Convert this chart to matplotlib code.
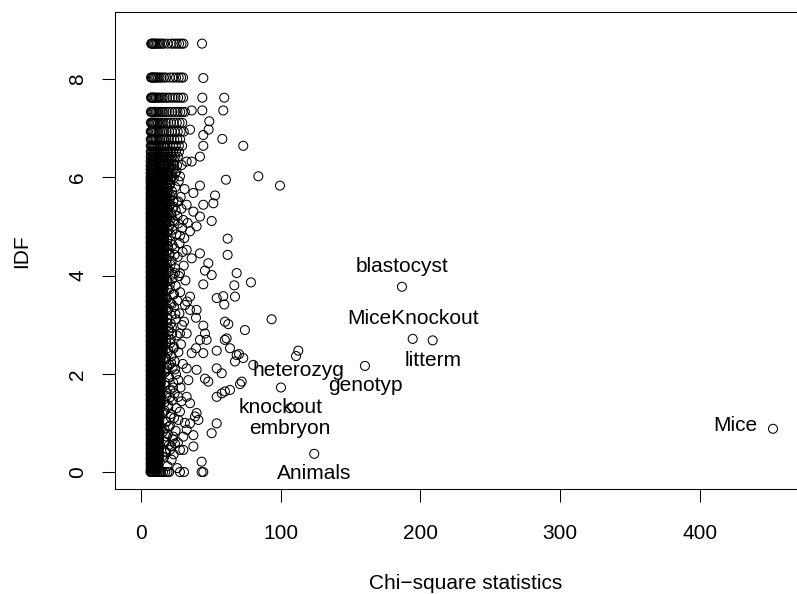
import matplotlib
matplotlib.use("Agg")
import matplotlib.pyplot as plt

plt.rcParams['font.family'] = ['Liberation Sans', 'DejaVu Sans']

# labelled terms
term_names = ["blastocyst", "MiceKnockout", "litterm", "heterozyg", "genotyp",
              "knockout", "embryon", "Animals", "Mice"]
term_chi = [186.8, 194.5, 208.8, 112.6, 160.3, 100.2, 106.7, 124.0, 452.4]
term_idf = [3.77, 2.71, 2.68, 2.47, 2.16, 1.72, 1.30, 0.37, 0.88]
term_side = ["above", "above", "below", "below", "below", "below", "below", "below", "left"]

# scattered terms right of the dense column
sparse_chi = [43.7, 44.6, 43.9, 59.6, 36.3, 43.9, 58.9, 48.9, 35.1, 48.4, 44.6, 58.2,
              44.6, 73.2, 42.2, 36.3, 32.7, 27.9, 60.8, 84.0, 99.5, 42.2, 37.5, 53.0,
              51.8, 26.7, 32.7, 44.6, 37.5, 42.2, 50.6, 30.3, 26.7, 39.8, 35.1, 27.9,
              62.0, 32.7, 42.2, 62.0, 36.3, 48.2, 45.8, 68.5, 50.6, 27.9, 24.3, 78.7,
              44.6, 66.8, 58.9, 54.2, 67.3, 59.6, 35.1, 31.5, 35.1, 39.8, 39.4, 30.8,
              60.1, 62.5, 93.5, 44.6, 74.4, 27.9, 32.7, 45.8, 61.3, 42.2, 47.0, 39.4,
              36.3, 44.6, 54.2, 63.7, 68.5, 73.2, 67.3, 24.3, 32.7, 39.8, 54.2, 45.8,
              48.2, 26.7, 33.9, 72.1, 54.2, 60.1, 63.7, 26.7, 32.7, 35.1, 39.8, 27.9,
              26.7, 35.1, 38.7, 41.1, 54.2, 32.7, 23.1, 30.3, 37.5, 24.3, 50.6, 37.5,
              30.3, 20.8, 27.9, 43.4, 27.9, 30.8, 43.4, 44.6,
              60.0, 70.2, 80.4, 111.0, 57.8, 70.9, 57.8]
sparse_idf = [8.72, 8.02, 7.62, 7.62, 7.36, 7.36, 7.36, 7.14, 6.97, 6.97, 6.86, 6.78,
              6.64, 6.64, 6.42, 6.32, 6.32, 6.02, 5.95, 6.02, 5.83, 5.83, 5.68, 5.63,
              5.47, 5.51, 5.44, 5.44, 5.30, 5.20, 5.11, 5.13, 5.06, 5.00, 4.90, 4.81,
              4.75, 4.52, 4.45, 4.42, 4.35, 4.25, 4.10, 4.05, 4.01, 4.05, 4.05, 3.86,
              3.82, 3.80, 3.58, 3.54, 3.57, 3.41, 3.57, 3.40, 3.30, 3.30, 3.14, 3.06,
              3.06, 3.01, 3.11, 2.98, 2.89, 2.82, 2.82, 2.82, 2.72, 2.69, 2.69, 2.52,
              2.42, 2.42, 2.47, 2.52, 2.38, 2.32, 2.25, 2.09, 2.11, 2.08, 2.11, 1.90,
              1.84, 1.87, 1.87, 1.84, 1.53, 1.64, 1.67, 1.53, 1.53, 1.40, 1.20, 1.23,
              1.06, 0.99, 1.13, 1.06, 0.99, 0.86, 0.72, 0.72, 0.75, 0.58, 0.79, 0.52,
              0.45, 0.45, 0.45, 0.21, 0.0, 0.0, 0.0, 0.0,
              2.69, 2.40, 2.18, 2.36, 2.01, 1.79, 1.60]

# overlapping terms just right of the dense column
fringe_chi = [18.5, 21.2, 25.3, 29.1, 19.6, 23.4, 27.0, 20.8, 24.6, 31.2, 18.9, 22.7,
              28.4, 20.1, 25.8, 23.3, 19.4, 28.9, 21.6, 26.1, 19.0, 23.8, 33.4, 20.5,
              29.6, 22.4, 18.6, 25.2, 31.0, 21.1, 27.6, 19.3, 23.9, 29.8, 20.4, 26.3,
              22.0, 18.4, 30.6, 24.4, 20.2, 27.2, 22.5, 18.9, 31.8, 24.8, 20.6, 28.0,
              22.9, 18.2, 26.0, 20.9, 33.0, 23.6, 19.1, 27.5, 21.7, 24.9, 18.6, 29.4,
              22.1, 19.8, 25.6, 21.3, 17.9, 28.6, 23.5, 19.5, 26.8, 21.8, 17.6, 24.2,
              20.3, 29.9, 22.6, 17.8, 25.1, 19.9, 23.0, 17.4, 28.3, 21.0, 24.0, 18.3,
              22.2, 29.0, 19.4, 25.4, 16.9, 21.4, 23.7, 18.1, 31.4, 20.7, 16.8, 24.8,
              19.2, 22.8, 17.2, 26.4, 20.0, 18.0, 23.4, 16.5, 21.9, 19.0, 25.9]
fringe_idf = [6.28, 6.20, 6.12, 6.25, 6.05, 5.98, 5.92, 5.86, 5.80, 5.76, 5.70, 5.64,
              5.60, 5.55, 5.49, 5.40, 5.34, 5.36, 5.27, 5.21, 5.16, 5.10, 5.07, 5.03,
              4.97, 4.93, 4.87, 4.84, 4.76, 4.71, 4.66, 4.60, 4.55, 4.48, 4.43, 4.38,
              4.30, 4.24, 4.20, 4.15, 4.09, 3.99, 3.93, 3.88, 3.90, 3.79, 3.72, 3.66,
              3.61, 3.55, 3.49, 3.44, 3.47, 3.36, 3.29, 3.23, 3.19, 3.11, 3.04, 2.99,
              2.94, 2.86, 2.78, 2.70, 2.64, 2.60, 2.55, 2.48, 2.44, 2.36, 2.30, 2.25,
              2.18, 2.20, 2.12, 2.05, 1.99, 1.93, 1.82, 1.76, 1.72, 1.68, 1.60, 1.55,
              1.46, 1.44, 1.36, 1.30, 1.25, 1.18, 1.10, 1.02, 1.00, 0.94, 0.88, 0.84,
              0.77, 0.66, 0.62, 0.60, 0.55, 0.40, 0.36, 0.30, 0.25, 0.12, 0.08]

# dense column at low chi-square: one IDF level per row
core_idf = [8.72, 8.03, 7.62, 7.33, 7.11, 6.93, 6.77, 6.64, 6.52, 6.42, 6.33, 6.24,
            6.16, 6.08, 6.01, 5.95,
            5.89, 5.83, 5.78, 5.72, 5.67, 5.62, 5.57, 5.52, 5.47, 5.42, 5.37, 5.32,
            5.27, 5.22, 5.17, 5.12, 5.07, 5.02,
            4.97, 4.92, 4.87, 4.82, 4.77, 4.72, 4.67, 4.62, 4.57, 4.52, 4.47, 4.42,
            4.37, 4.32, 4.27, 4.22, 4.17, 4.12, 4.07, 4.02, 3.97, 3.92, 3.87, 3.82,
            3.77, 3.72, 3.67, 3.62, 3.57, 3.52, 3.47, 3.42, 3.37, 3.32, 3.27, 3.22,
            3.17, 3.12, 3.07, 3.02, 2.97, 2.92, 2.87, 2.82, 2.77, 2.72, 2.67, 2.62,
            2.57, 2.52, 2.47, 2.42,
            2.37, 2.32, 2.27, 2.22, 2.17, 2.12, 2.07, 2.02, 1.97, 1.92, 1.87, 1.82,
            1.77, 1.72, 1.67, 1.62, 1.57, 1.52, 1.47, 1.42, 1.37, 1.32,
            1.27, 1.22, 1.17, 1.12, 1.07, 1.02, 0.97, 0.92, 0.87, 0.82, 0.77, 0.72,
            0.67, 0.62, 0.57, 0.52, 0.47, 0.42, 0.37, 0.32, 0.27, 0.22, 0.17, 0.12,
            0.06, 0.0]
core_chi = [
    [7.3, 7.9, 8.6, 9.4, 10.3, 11.3, 12.4, 13.6, 15.0, 16.5, 19.1, 21.8, 23.6, 25.5, 27.3, 29.0, 30.4],
    [7.2, 7.8, 8.5, 9.2, 10.1, 11.0, 12.1, 13.3, 14.6, 16.2, 17.9, 20.7, 23.0, 25.1, 27.0, 28.7, 30.1],
    [7.2, 7.7, 8.3, 9.0, 9.8, 10.7, 11.7, 12.8, 14.0, 15.4, 16.9, 18.6, 20.5, 22.6, 24.7, 26.6, 28.5, 30.2],
    [7.1, 7.6, 8.2, 8.9, 9.7, 10.6, 11.6, 12.7, 13.9, 15.3, 16.8, 18.4, 20.3, 22.3, 24.3, 26.2, 28.1, 29.8, 31.4],
    [7.1, 7.6, 8.2, 8.8, 9.5, 10.3, 11.2, 12.2, 13.4, 14.7, 16.1, 17.7, 19.5, 21.4, 23.5, 25.6, 27.6, 29.5],
    [7.0, 7.5, 8.1, 8.8, 9.6, 10.5, 11.5, 12.6, 13.8, 15.2, 16.7, 18.3, 20.1, 22.0, 24.1, 26.3, 28.4, 30.6],
    [7.0, 7.6, 8.2, 8.9, 9.7, 10.6, 11.6, 12.7, 13.9, 15.2, 16.6, 18.2, 19.9, 21.8, 23.8, 25.9, 28.0],
    [7.0, 7.5, 8.1, 8.7, 9.4, 10.2, 11.1, 12.1, 13.2, 14.4, 15.8, 17.3, 19.0, 20.8, 22.8, 24.9, 27.1, 29.4],
    [7.0, 7.6, 8.3, 9.1, 10.0, 11.0, 12.1, 13.3, 14.6, 16.0, 17.6, 19.3, 21.1, 23.0, 25.1, 27.2],
    [7.0, 7.5, 8.2, 8.9, 9.7, 10.6, 11.6, 12.7, 13.9, 15.3, 16.8, 18.4, 20.2, 22.2, 24.3, 26.4],
    [6.9, 7.5, 8.1, 8.8, 9.6, 10.5, 11.5, 12.6, 13.8, 15.1, 16.6, 18.2, 20.0, 22.1, 24.0],
    [6.9, 7.4, 8.0, 8.7, 9.5, 10.4, 11.4, 12.5, 13.7, 15.0, 16.4, 18.0, 19.8, 21.7, 23.7, 25.8],
    [6.9, 7.5, 8.2, 9.0, 9.9, 10.9, 12.0, 13.2, 14.5, 15.9, 17.5, 19.2, 21.0, 22.9],
    [6.9, 7.4, 8.0, 8.7, 9.5, 10.4, 11.4, 12.5, 13.7, 15.0, 16.4, 18.0, 19.7, 21.5, 24.4],
    [6.9, 7.5, 8.1, 8.8, 9.6, 10.5, 11.5, 12.6, 13.8, 15.1, 16.5, 18.1, 19.8, 22.0],
    [6.9, 7.4, 8.0, 8.7, 9.5, 10.4, 11.4, 12.5, 13.7, 15.0, 16.4, 17.9, 19.5, 21.3],
    [6.9, 7.6, 8.4, 9.3, 10.3, 11.4, 12.7, 14.1, 15.7, 17.4, 19.2],
    [7.0, 7.7, 8.5, 9.4, 10.4, 11.6, 12.9, 14.4, 16.0, 17.8, 20.3],
    [6.9, 7.5, 8.2, 9.0, 10.0, 11.1, 12.3, 13.7, 15.3, 17.0, 18.8],
    [7.0, 7.8, 8.7, 9.7, 10.8, 12.0, 13.4, 14.9, 16.6, 18.5, 22.1],
    [6.9, 7.5, 8.3, 9.2, 10.2, 11.3, 12.6, 14.0, 15.6, 17.3, 19.0],
    [7.0, 7.7, 8.5, 9.4, 10.4, 11.5, 12.8, 14.2, 15.8, 17.6, 21.0],
    [6.9, 7.6, 8.4, 9.3, 10.3, 11.4, 12.7, 14.1, 15.7, 17.4, 18.9],
    [7.0, 7.8, 8.6, 9.5, 10.5, 11.7, 13.0, 14.5, 16.1, 17.9, 23.2],
    [6.9, 7.5, 8.2, 9.1, 10.1, 11.2, 12.5, 13.9, 15.5, 17.2, 19.1],
    [7.0, 7.7, 8.5, 9.4, 10.4, 11.6, 12.9, 14.3, 15.9, 17.7, 20.5],
    [6.9, 7.6, 8.4, 9.3, 10.2, 11.3, 12.6, 14.0, 15.5, 17.2, 18.8],
    [7.0, 7.8, 8.6, 9.5, 10.5, 11.7, 13.0, 14.4, 16.0, 17.8, 24.9],
    [6.9, 7.5, 8.3, 9.2, 10.2, 11.3, 12.6, 14.0, 15.6, 17.3, 19.2],
    [7.0, 7.7, 8.5, 9.4, 10.4, 11.5, 12.8, 14.2, 15.8, 17.5, 21.8],
    [6.9, 7.6, 8.3, 9.1, 10.0, 11.1, 12.3, 13.7, 15.2, 16.9, 18.7],
    [7.0, 7.8, 8.6, 9.5, 10.5, 11.7, 13.0, 14.4, 16.0, 17.7, 23.0],
    [6.9, 7.5, 8.2, 9.0, 9.9, 11.0, 12.2, 13.5, 15.0, 16.6, 18.3],
    [7.0, 7.7, 8.5, 9.3, 10.3, 11.4, 12.6, 14.0, 15.5, 17.1, 20.2],
    [6.9, 7.6, 8.3, 9.1, 10.0, 11.0, 12.1, 13.4, 14.8, 16.3],
    [7.0, 7.7, 8.5, 9.3, 10.2, 11.2, 12.4, 13.7, 15.1, 16.7, 19.6],
    [6.9, 7.5, 8.2, 9.0, 9.9, 10.9, 12.0, 13.3, 14.7, 16.2],
    [7.0, 7.8, 8.6, 9.4, 10.3, 11.3, 12.5, 13.8, 15.2, 16.8, 21.4],
    [6.9, 7.6, 8.3, 9.1, 10.0, 11.0, 12.1, 13.4, 14.8, 16.4],
    [7.0, 7.7, 8.4, 9.2, 10.1, 11.1, 12.3, 13.6, 15.0, 16.6, 18.9],
    [6.9, 7.5, 8.2, 9.0, 9.9, 10.9, 12.0, 13.2, 14.6, 16.1],
    [7.0, 7.8, 8.6, 9.4, 10.3, 11.3, 12.4, 13.7, 15.1, 16.7, 22.6],
    [6.9, 7.6, 8.3, 9.1, 10.0, 11.0, 12.1, 13.3, 14.7, 16.3],
    [7.0, 7.7, 8.5, 9.3, 10.2, 11.2, 12.4, 13.7, 15.1, 16.6, 19.9],
    [6.9, 7.5, 8.2, 9.0, 9.8, 10.8, 11.9, 13.1, 14.5, 16.0],
    [7.0, 7.8, 8.6, 9.4, 10.3, 11.3, 12.5, 13.8, 15.2, 16.8, 24.1],
    [6.9, 7.6, 8.3, 9.1, 10.0, 11.0, 12.1, 13.4, 14.8, 16.3],
    [7.0, 7.7, 8.4, 9.2, 10.1, 11.1, 12.3, 13.6, 15.0, 16.5, 18.4],
    [6.9, 7.5, 8.2, 9.0, 9.9, 10.9, 12.0, 13.2, 14.6, 16.2],
    [7.0, 7.8, 8.6, 9.4, 10.3, 11.3, 12.4, 13.7, 15.1, 16.6, 21.2],
    [6.9, 7.6, 8.3, 9.1, 10.0, 11.0, 12.1, 13.3, 14.7, 16.2],
    [7.0, 7.7, 8.5, 9.3, 10.2, 11.2, 12.3, 13.6, 15.0, 16.5, 19.4],
    [6.9, 7.5, 8.2, 9.0, 9.9, 10.9, 12.0, 13.2, 14.6, 16.1],
    [7.0, 7.8, 8.5, 9.3, 10.2, 11.2, 12.3, 13.6, 15.0, 16.5, 22.8],
    [6.9, 7.6, 8.3, 9.1, 10.0, 11.0, 12.1, 13.3, 14.7, 16.2],
    [7.0, 7.7, 8.4, 9.2, 10.1, 11.1, 12.2, 13.5, 14.9, 16.4, 18.6],
    [6.9, 7.5, 8.2, 9.0, 9.9, 10.9, 12.0, 13.2, 14.6, 16.0],
    [7.0, 7.8, 8.6, 9.4, 10.3, 11.3, 12.4, 13.7, 15.1, 16.6, 20.7],
    [6.9, 7.6, 8.3, 9.1, 10.0, 11.0, 12.1, 13.3, 14.6, 15.9],
    [7.0, 7.7, 8.5, 9.3, 10.2, 11.2, 12.3, 13.5, 14.8, 16.2, 19.0],
    [6.9, 7.5, 8.2, 9.0, 9.9, 10.8, 11.9, 13.1, 14.4, 15.7],
    [7.0, 7.8, 8.6, 9.4, 10.3, 11.3, 12.4, 13.6, 14.9, 16.3, 23.7],
    [6.9, 7.6, 8.3, 9.1, 9.9, 10.9, 12.0, 13.2, 14.5, 15.8],
    [7.0, 7.7, 8.4, 9.2, 10.1, 11.1, 12.2, 13.4, 14.7, 16.1, 18.2],
    [6.9, 7.5, 8.2, 9.0, 9.8, 10.8, 11.9, 13.0, 14.3, 15.6],
    [7.0, 7.8, 8.5, 9.3, 10.2, 11.2, 12.3, 13.5, 14.8, 16.2, 21.9],
    [6.9, 7.6, 8.3, 9.1, 10.0, 10.9, 12.0, 13.2, 14.5, 15.8],
    [7.0, 7.7, 8.4, 9.2, 10.1, 11.0, 12.1, 13.3, 14.6, 16.0, 19.3],
    [6.9, 7.5, 8.2, 8.9, 9.8, 10.7, 11.8, 12.9, 14.2, 15.5],
    [7.0, 7.8, 8.5, 9.3, 10.2, 11.1, 12.2, 13.4, 14.7, 16.1, 24.6],
    [6.9, 7.6, 8.3, 9.0, 9.9, 10.8, 11.9, 13.0, 14.3, 15.6],
    [7.0, 7.7, 8.4, 9.2, 10.0, 11.0, 12.1, 13.2, 14.5, 15.9, 18.7],
    [6.9, 7.5, 8.2, 8.9, 9.8, 10.7, 11.7, 12.8, 14.1, 15.4],
    [7.0, 7.8, 8.5, 9.3, 10.1, 11.1, 12.2, 13.3, 14.6, 16.0, 21.3],
    [6.9, 7.6, 8.3, 9.0, 9.9, 10.8, 11.9, 13.0, 14.3, 15.6],
    [7.0, 7.7, 8.4, 9.2, 10.0, 11.0, 12.0, 13.2, 14.5, 15.8, 19.8],
    [6.9, 7.5, 8.2, 8.9, 9.7, 10.6, 11.7, 12.8, 14.0, 15.3],
    [7.0, 7.8, 8.5, 9.3, 10.1, 11.1, 12.1, 13.3, 14.6, 15.9, 22.4],
    [6.9, 7.6, 8.3, 9.0, 9.9, 10.8, 11.8, 13.0, 14.2, 15.5],
    [7.0, 7.7, 8.4, 9.2, 10.0, 11.0, 12.0, 13.2, 14.4, 15.8, 18.1],
    [6.9, 7.5, 8.2, 8.9, 9.7, 10.6, 11.6, 12.8, 14.0, 15.3],
    [7.0, 7.8, 8.5, 9.3, 10.1, 11.1, 12.1, 13.3, 14.5, 15.9, 20.9],
    [6.9, 7.6, 8.3, 9.0, 9.8, 10.8, 11.8, 12.9, 14.2, 15.5],
    [7.0, 7.7, 8.4, 9.1, 10.0, 10.9, 12.0, 13.1, 14.4, 15.7, 23.4],
    [6.9, 7.5, 8.2, 8.9, 9.7, 10.6, 11.6, 12.7, 13.9, 15.2],
    [7.0, 7.8, 8.5, 9.2, 10.1, 11.0, 12.1, 13.2, 14.5, 15.8, 19.1],
    [6.9, 7.6, 8.3, 9.0, 9.8, 10.7, 11.7, 12.8, 14.0],
    [7.0, 7.7, 8.4, 9.1, 9.9, 10.8, 11.9, 13.0, 14.2, 17.6],
    [6.9, 7.5, 8.2, 8.9, 9.7, 10.6, 11.6, 12.6, 13.8],
    [7.0, 7.8, 8.5, 9.2, 10.0, 10.9, 11.9, 13.0, 14.3, 21.5],
    [6.9, 7.6, 8.3, 9.0, 9.8, 10.7, 11.7, 12.8, 14.0],
    [7.0, 7.7, 8.4, 9.1, 9.9, 10.8, 11.8, 12.9, 14.1, 18.9],
    [6.9, 7.5, 8.2, 8.9, 9.7, 10.6, 11.5, 12.6, 13.8],
    [7.0, 7.8, 8.5, 9.2, 10.0, 10.9, 11.9, 13.0, 14.2, 16.7],
    [6.9, 7.6, 8.3, 9.0, 9.8, 10.7, 11.7, 12.7, 13.9],
    [7.0, 7.7, 8.4, 9.1, 9.9, 10.8, 11.8, 12.9, 14.1, 20.1],
    [6.9, 7.5, 8.2, 8.9, 9.7, 10.5, 11.5, 12.6, 13.7],
    [7.0, 7.8, 8.5, 9.2, 10.0, 10.9, 11.9, 13.0, 14.2, 17.2],
    [6.9, 7.6, 8.3, 9.0, 9.8, 10.7, 11.6, 12.7, 13.9],
    [7.0, 7.7, 8.4, 9.1, 9.9, 10.8, 11.8, 12.8, 14.0, 22.9],
    [6.9, 7.5, 8.2, 8.9, 9.6, 10.5, 11.5, 12.5, 13.7],
    [7.0, 7.8, 8.5, 9.2, 10.0, 10.9, 11.9, 12.9, 14.1, 18.3],
    [6.9, 7.6, 8.3, 9.0, 9.8, 10.6, 11.6, 12.7, 13.8],
    [7.0, 7.7, 8.4, 9.1, 9.9, 10.8, 11.7, 12.8, 14.0, 20.6],
    [6.9, 7.5, 8.2, 8.9, 9.6, 10.5, 11.4, 12.5, 13.6],
    [7.0, 7.8, 8.5, 9.2, 10.0, 10.9, 11.8, 12.9, 14.1, 16.9],
    [6.9, 7.6, 8.3, 9.0, 9.7, 10.6, 11.6, 12.6, 13.8],
    [7.0, 7.7, 8.4, 9.1, 9.9, 10.7, 11.7, 12.8, 13.9, 19.5],
    [6.9, 7.5, 8.2, 8.9, 9.6, 10.4, 11.3, 12.3, 13.3],
    [7.0, 7.8, 8.5, 9.2, 9.9, 10.8, 11.7, 12.7, 16.1],
    [6.9, 7.6, 8.3, 9.0, 9.7, 10.5, 11.4, 12.4, 13.4],
    [7.0, 7.7, 8.4, 9.1, 9.8, 10.6, 11.5, 12.5, 21.1],
    [6.9, 7.5, 8.2, 8.9, 9.6, 10.4, 11.3, 12.3, 13.2],
    [7.0, 7.8, 8.5, 9.2, 9.9, 10.7, 11.6, 12.6, 17.8],
    [6.9, 7.6, 8.3, 9.0, 9.7, 10.5, 11.4, 12.4, 13.3],
    [7.0, 7.7, 8.4, 9.1, 9.8, 10.6, 11.5, 12.5, 19.9],
    [6.9, 7.5, 8.2, 8.9, 9.6, 10.4, 11.2, 12.2, 13.1],
    [7.0, 7.8, 8.5, 9.2, 9.9, 10.7, 11.6, 12.6, 15.8],
    [6.9, 7.6, 8.3, 9.0, 9.7, 10.5, 11.4, 12.3, 13.2],
    [7.0, 7.7, 8.4, 9.1, 9.8, 10.6, 11.5, 12.4, 18.4],
    [6.9, 7.5, 8.2, 8.9, 9.6, 10.4, 11.2, 12.1, 13.0],
    [7.0, 7.8, 8.5, 9.2, 9.9, 10.7, 11.6, 12.5, 16.4],
    [6.9, 7.6, 8.3, 9.0, 9.7, 10.5, 11.3, 12.2, 13.1],
    [7.0, 7.7, 8.4, 9.1, 9.8, 10.6, 11.4, 12.4, 21.7],
    [6.9, 7.5, 8.2, 8.9, 9.6, 10.3, 11.1, 12.0, 12.9],
    [7.0, 7.8, 8.5, 9.2, 9.9, 10.7, 11.5, 12.4, 17.1],
    [6.9, 7.6, 8.3, 9.0, 9.6, 10.4, 11.2, 12.1, 13.0],
    [7.0, 7.7, 8.4, 9.1, 9.8, 10.5, 11.3, 12.2, 15.2],
    [6.9, 7.5, 8.2, 8.8, 9.5, 10.3, 11.1, 12.0, 12.9],
    [7.0, 7.8, 8.5, 9.1, 9.8, 10.6, 11.4, 12.3],
    [6.9, 7.6, 8.2, 8.9, 9.6, 10.4, 11.2, 12.1],
    [7.0, 7.7, 8.4, 9.0, 9.7, 10.5, 11.3, 12.2],
    [6.9, 7.5, 8.1, 8.8, 9.5, 10.2, 11.0, 11.9],
    [6.8, 7.3, 7.9, 8.5, 9.2, 10.0, 10.9, 11.9, 13.0, 14.3, 15.8, 17.4, 19.0, 20.1],
]

xs = sparse_chi + fringe_chi + term_chi
ys = sparse_idf + fringe_idf + term_idf
for level, row in zip(core_idf, core_chi):
    xs += row
    ys += [level] * len(row)

fig = plt.figure(figsize=(7.97, 5.94), dpi=100)
ax = fig.add_axes([115 / 797, (594 - 489.3) / 594, (800 - 115) / 797, (489.3 - 12.3) / 594])

ax.scatter(xs, ys, s=42, facecolors='none', edgecolors='black', linewidths=0.75)

for name, cx, cy, side in zip(term_names, term_chi, term_idf, term_side):
    if side == "above":
        off, ha = (0, 14.6), 'center'
    elif side == "below":
        off, ha = (0, -14.4), 'center'
    else:
        off, ha = (-11.3, 2.2), 'right'
    ax.annotate(name, (cx, cy), xytext=off, textcoords='offset points',
                ha=ha, va='center', fontsize=15)

ax.set_xlim(-18.6, (800 - 141) / 1.397)
ax.set_ylim(-0.352, 9.358)
ax.set_xticks([0, 100, 200, 300, 400])
ax.set_yticks([0, 2, 4, 6, 8])
ax.set_yticklabels(['0', '2', '4', '6', '8'], rotation=90, va='center')
ax.tick_params(axis='both', length=9.4, width=0.75, labelsize=15, color='black')
ax.tick_params(axis='x', pad=15.5)
ax.tick_params(axis='y', pad=10.5)
for sp in ax.spines.values():
    sp.set_linewidth(0.75)

fig.text(466 / 797, 1 - 583.3 / 594, 'Chi\u2212square statistics', ha='center', va='center', fontsize=15)
fig.text(22 / 797, 1 - 250.8 / 594, 'IDF', rotation=90, ha='center', va='center', fontsize=15)

fig.savefig('out.png', dpi=100)
